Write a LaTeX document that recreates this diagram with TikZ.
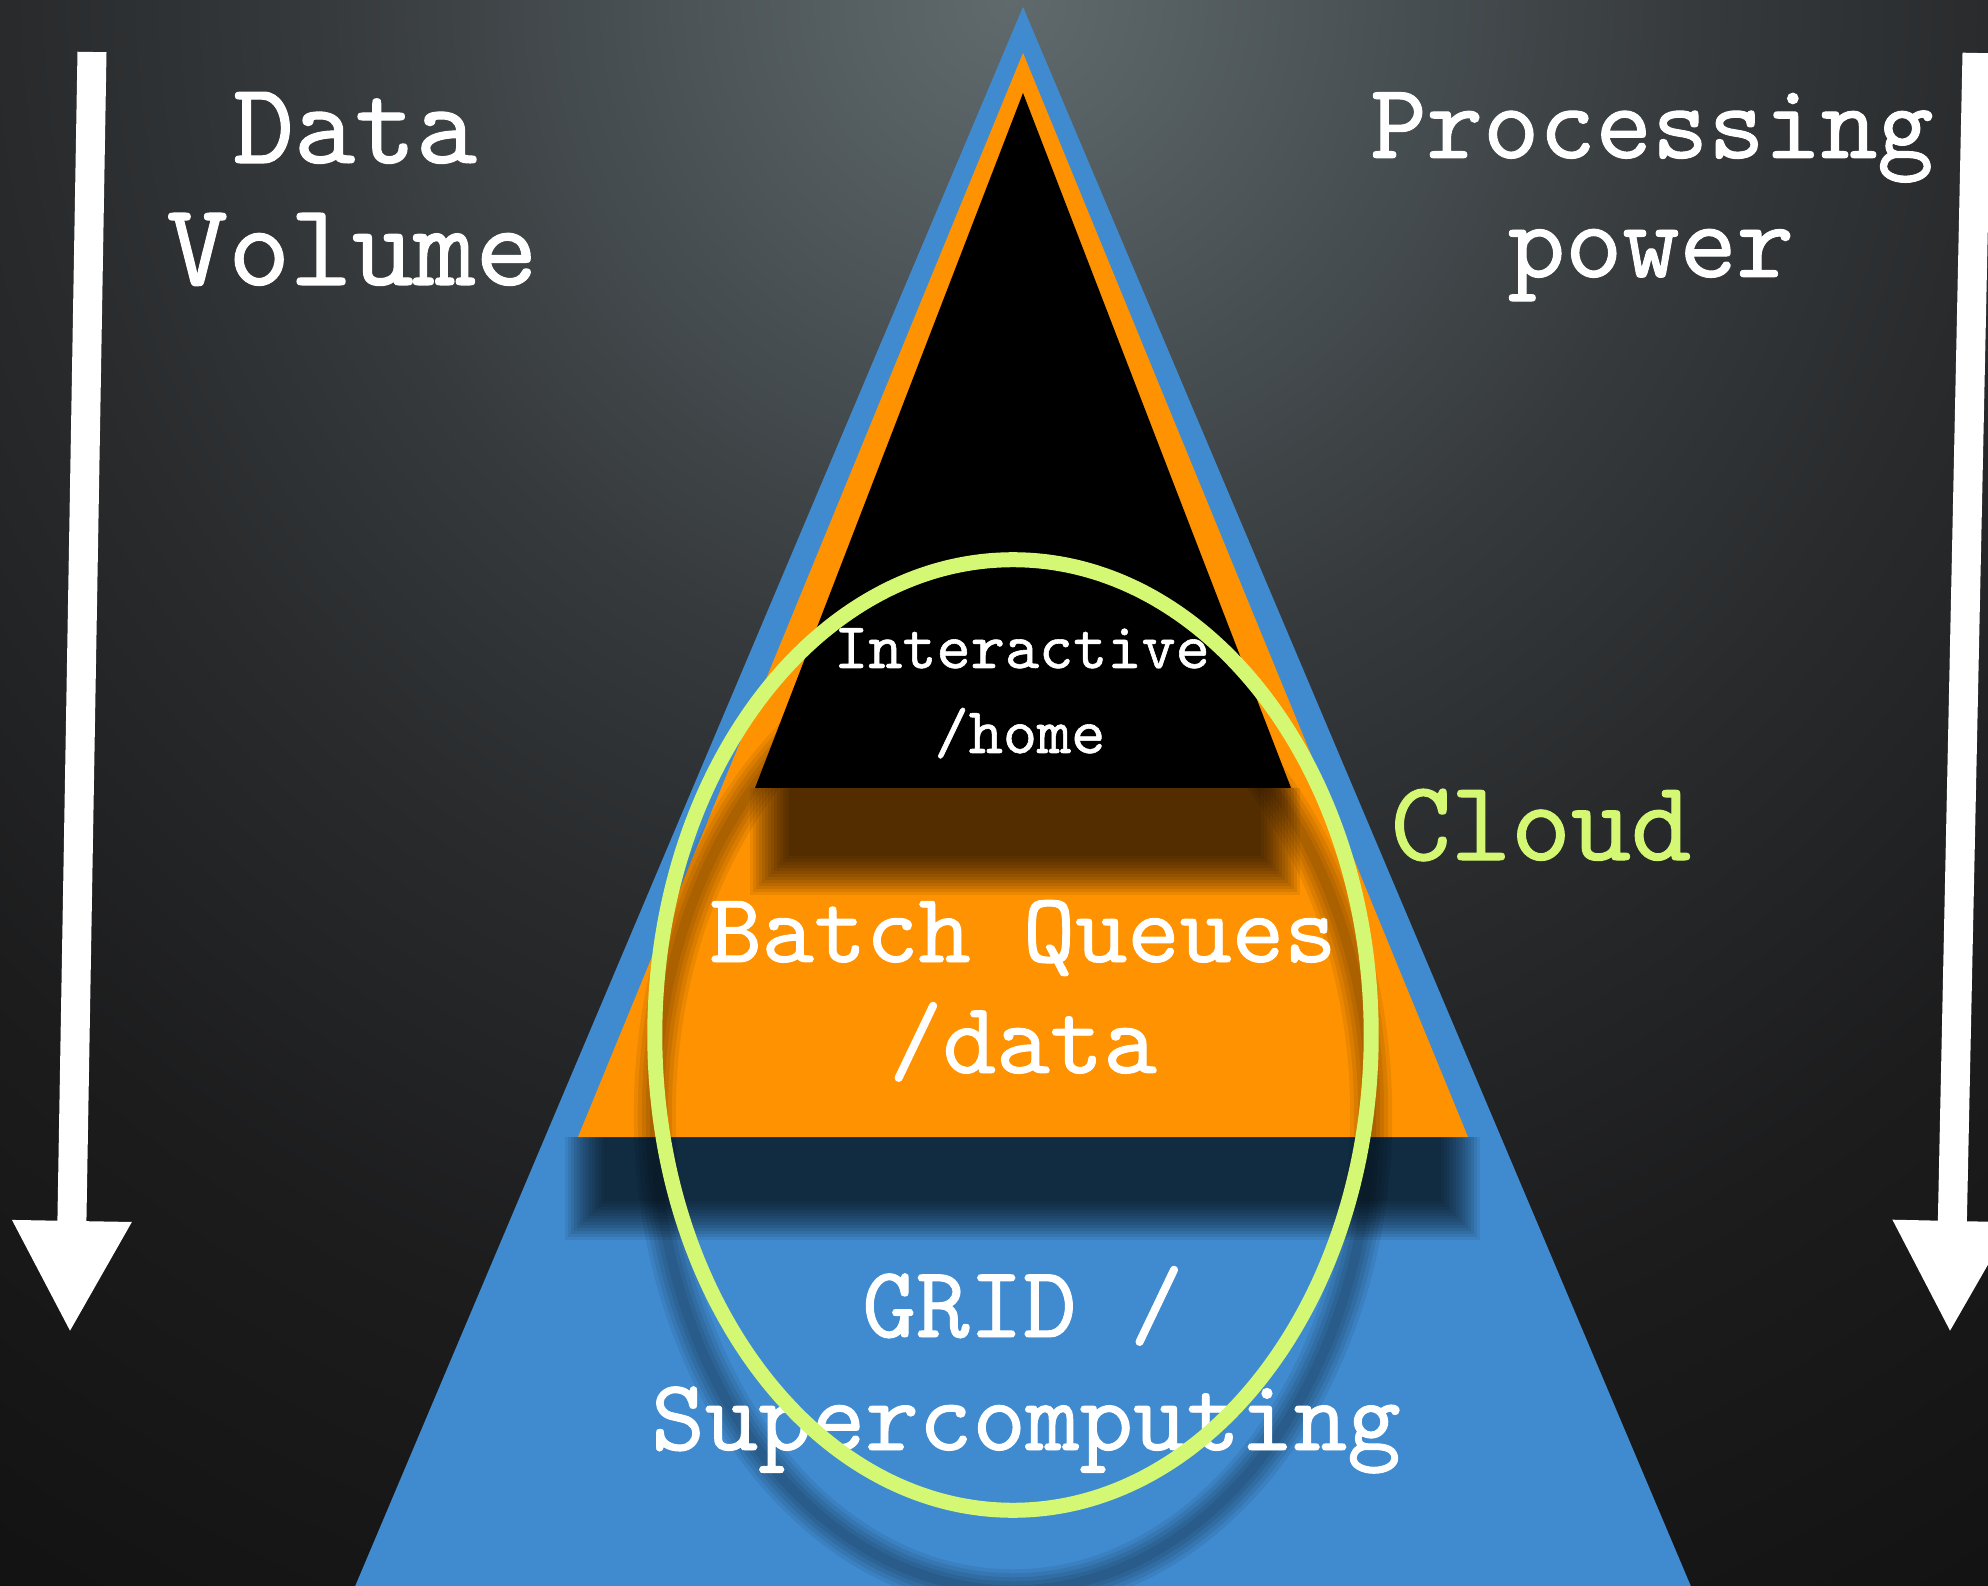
\documentclass[tikz,border=0pt]{standalone}
\usepackage{fontspec}
\usetikzlibrary{arrows.meta}

\newfontfamily\typeface{lmmono10-regular.otf}[FakeBold=0.9]

\definecolor{slatecore}{RGB}{96,106,109}
\definecolor{slatemid}{RGB}{76,84,87}
\definecolor{slatedim}{RGB}{54,58,60}
\definecolor{slaterim}{RGB}{40,42,44}
\definecolor{slatedeep}{RGB}{28,28,29}
\definecolor{slateedge}{RGB}{16,16,16}
\definecolor{gridblue}{RGB}{64,139,208}
\definecolor{batchorange}{RGB}{255,146,0}
\definecolor{cloudgreen}{RGB}{212,248,116}

\pgfdeclareradialshading{slate}{\pgfpoint{0bp}{0bp}}{%
  color(0bp)=(slatecore); color(4bp)=(slatemid); color(8.5bp)=(slatedim);
  color(12.5bp)=(slaterim); color(17.5bp)=(slatedeep); color(25bp)=(slateedge);
  color(50bp)=(slateedge)}

\begin{document}
\begin{tikzpicture}[x=0.01cm, y=-0.01cm,
	every node/.style={inner sep=0pt, anchor=base, text=white},
	side label/.style={font=\typeface\fontsize{33.5pt}{36pt}\selectfont},
	tier label/.style={font=\typeface\fontsize{29pt}{32pt}\selectfont},
	top label/.style={font=\typeface\fontsize{18.5pt}{24pt}\selectfont},
	flow arrow/.style={white, line width=0.29cm, -{Triangle[length=1.12cm, width=1.11cm]}},
	blur layer/.style={black, opacity=0.075},
	ring/.style={cloudgreen, line width=0.15cm}]

	\useasboundingbox (0,0) rectangle (1988,1586);
	\clip (0,0) rectangle (1988,1586);

	% backdrop, lit from the top centre
	\shade[shading=slate] (1010,0) circle (20cm);

	% the two side arrows
	\coordinate (volTop) at (92,52);
	\coordinate (volEnd) at (70,1333);
	\coordinate (powTop) at (1977,53);
	\coordinate (powEnd) at (1950,1333);
	\draw[flow arrow] (volTop) -- (volEnd);
	\draw[flow arrow] (powTop) -- (powEnd);

	% pyramid, widest tier first, each with a soft shadow below the next one
	\fill[gridblue] (1023,7) -- (307,1700) -- (1739,1700) -- cycle;
	\foreach \k in {0,...,13}
		\fill[blur layer] ({565+3*\k},1137) rectangle ({1480-3*\k},{1240-3*\k});
	\fill[batchorange] (1023,53) -- (578,1137) -- (1468,1137) -- cycle;
	\foreach \k in {0,...,13}
		\fill[blur layer] ({750+3*\k},788) rectangle ({1300-3*\k},{895-3*\k});
	\fill[black] (1023,93) -- (755,788) -- (1291,788) -- cycle;

	% shadow of the cloud ring
	\foreach \w in {10,18,26,34,42}
		\draw[black, opacity=0.075, line width={\w*0.1mm}] (1013,1115) ellipse [x radius=3.58cm, y radius=4.75cm];

	\node[tier label] (grid) at (1023,1337) {GRID /};
	\node[tier label] (super) at (1026,1450) {Supercomputing};

	\draw[ring] (1013,1035) ellipse [x radius=3.58cm, y radius=4.75cm];

	\node[top label] (interactive) at (1022,668) {Interactive};
	\node[top label] (home) at (1020,753) {/home};
	\node[tier label, font=\typeface\fontsize{28.3pt}{32pt}\selectfont] (batch) at (1023,962) {Batch Queues};
	\node[tier label] (datadir) at (1023,1073) {/data};
	\node[side label, font=\typeface\fontsize{32.5pt}{36pt}\selectfont, text=cloudgreen] (cloud) at (1541,860) {Cloud};

	\node[side label, font=\typeface\fontsize{33pt}{36pt}\selectfont] (data) at (355,163) {Data};
	\node[side label] (volume) at (352,285) {Volume};
	\node[side label, font=\typeface\fontsize{30.5pt}{36pt}\selectfont] (processing) at (1652,158) {Processing};
	\node[side label, font=\typeface\fontsize{31pt}{36pt}\selectfont] (power) at (1651,277) {power};
\end{tikzpicture}
\end{document}
